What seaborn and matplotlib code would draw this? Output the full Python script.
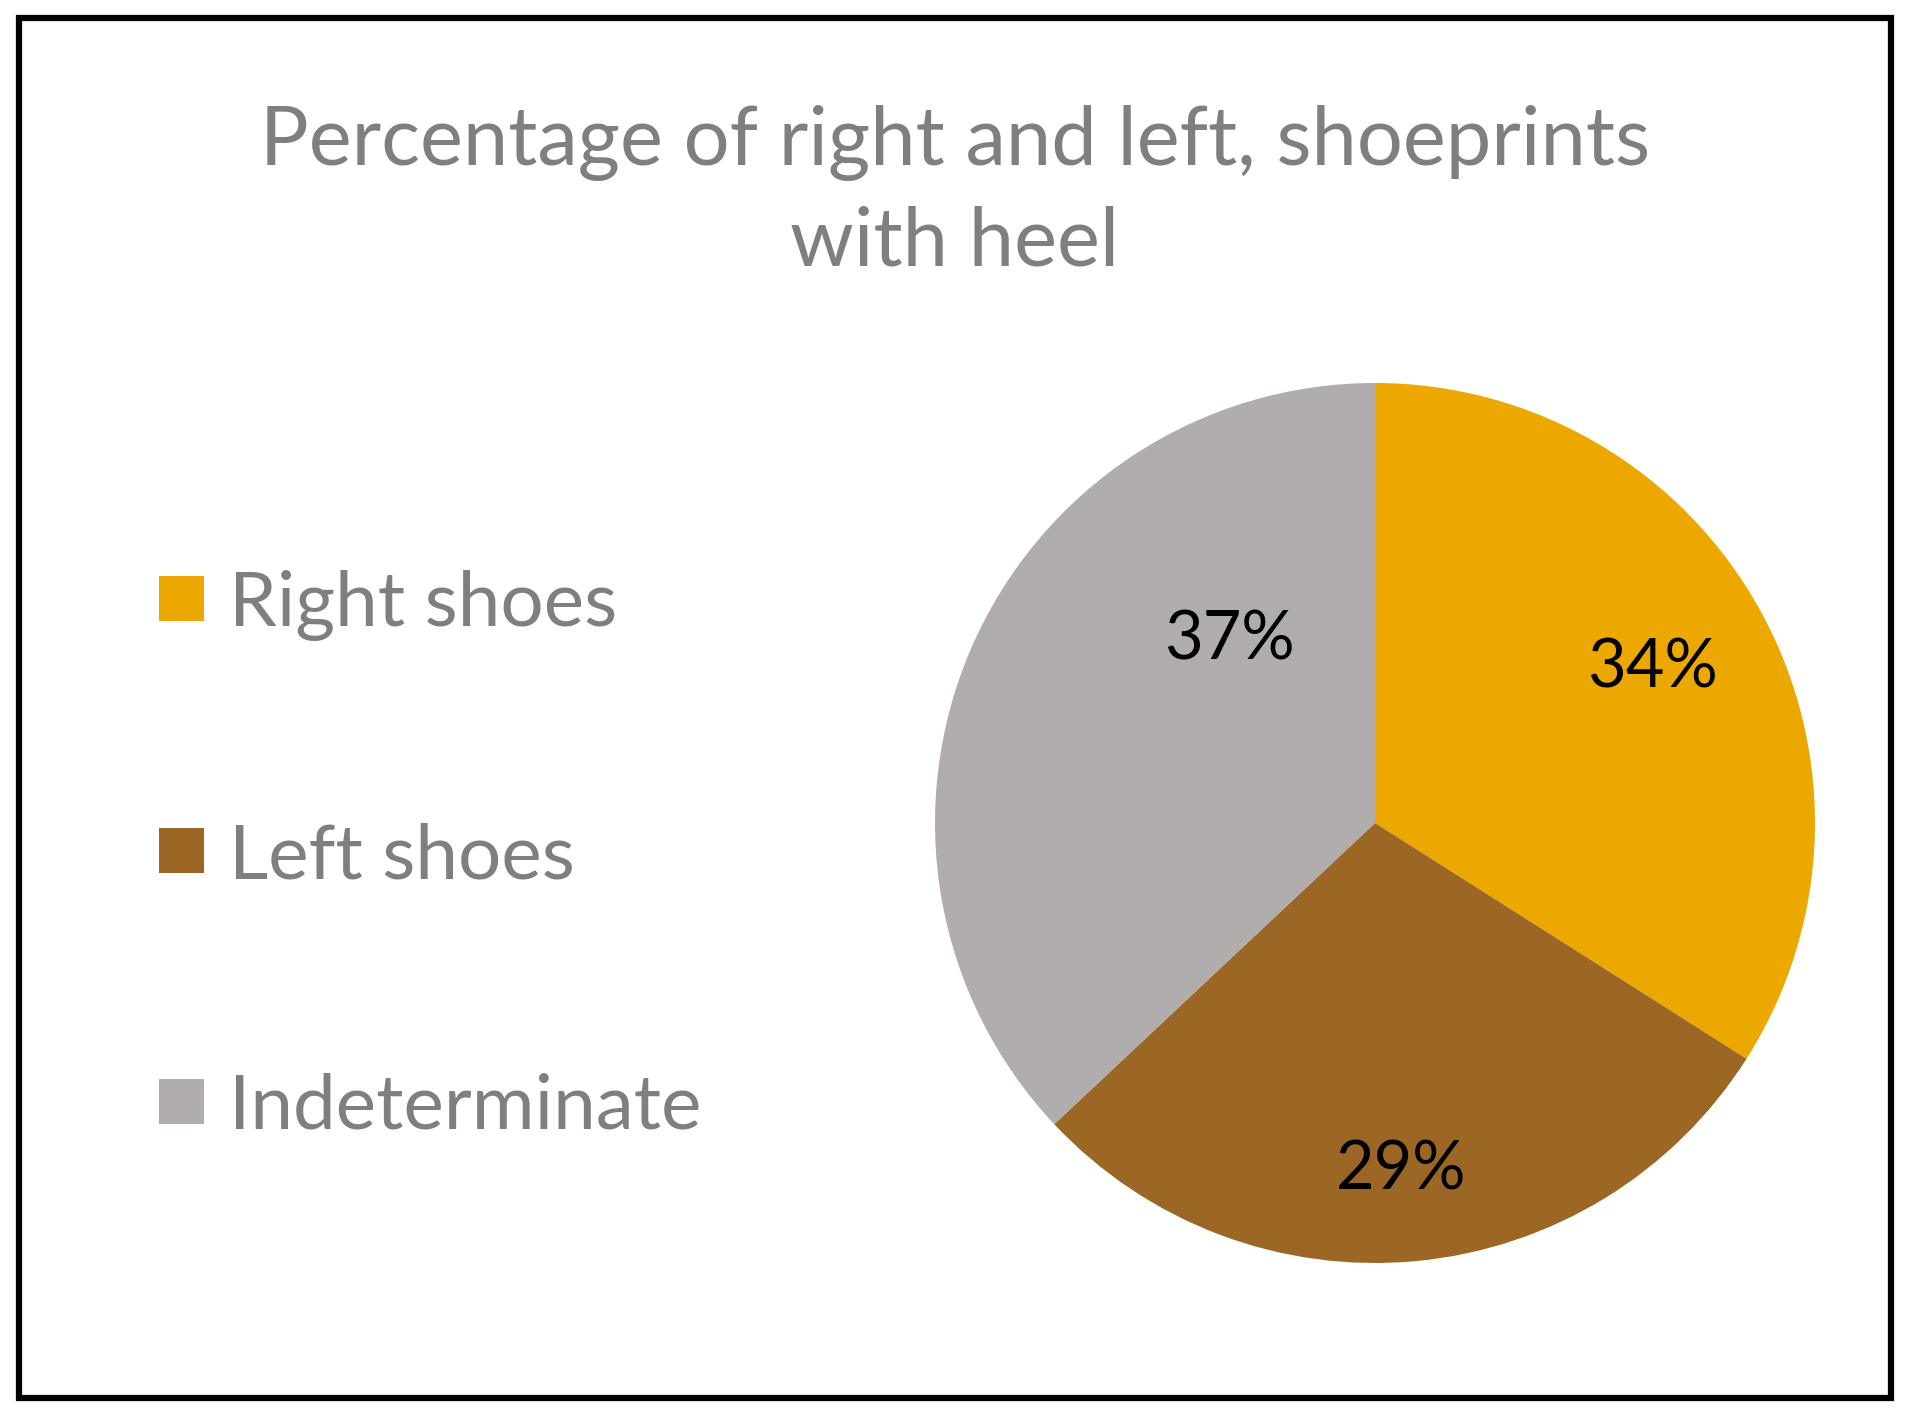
import matplotlib
matplotlib.use("Agg")
import matplotlib.pyplot as plt
import matplotlib.patches as mpatches
import seaborn as sns

# Data
categories = ["Right shoes", "Left shoes", "Indeterminate"]
shares = [34, 29, 37]
colors = ["#EDA800", "#9C6624", "#B0ADAC"]
title = "Percentage of right and left, shoeprints\nwith heel"

sns.set_theme(style="white")
plt.rcParams["font.family"] = ["Lato", "DejaVu Sans"]

fig = plt.figure(figsize=(19.1, 14.17), dpi=100)
fig.patch.set_facecolor("white")

# pie axes: centre ~ (1375, 823) px, radius ~440 px
cx, cy, r = 1375 / 1910, 1 - 823 / 1417, 440
ax = fig.add_axes([cx - r / 1910, cy - r / 1417, 2 * r / 1910, 2 * r / 1417])
wedges, texts, autotexts = ax.pie(
    shares,
    colors=colors,
    startangle=90,
    counterclock=False,
    autopct="%1.0f%%",
    pctdistance=0.75,
    wedgeprops=dict(linewidth=0),
    textprops=dict(color="black", fontsize=48),
)
ax.set_xlim(-1, 1)
ax.set_ylim(-1, 1)
ax.set_aspect("equal")
# Excel best-fit spots for the labels
autotexts[0].set_position((0.63, 0.35))
autotexts[1].set_position((0.06, -0.79))
autotexts[2].set_position((-0.33, 0.415))

fig.text(0.5, 1 - 105 / 1417, title, ha="center", va="top",
         fontsize=58.5, color="#7F7F7F", linespacing=1.4)

leg = fig.legend(
    wedges, categories,
    loc="upper left",
    bbox_to_anchor=(159 / 1910, 1 - 570 / 1417),
    frameon=False,
    fontsize=55,
    handlelength=0.59,
    handleheight=0.53,
    handletextpad=0.32,
    labelspacing=2.37,
    borderpad=0,
    borderaxespad=0,
)
for t in leg.get_texts():
    t.set_color("#7F7F7F")

# outer frame
fig.patches.append(mpatches.Rectangle(
    (19 / 1910, 1 - 1398 / 1417), (1891 - 19) / 1910, (1398 - 18) / 1417,
    transform=fig.transFigure, fill=False, edgecolor="black", linewidth=4.5))

fig.savefig("out.png", dpi=100)
